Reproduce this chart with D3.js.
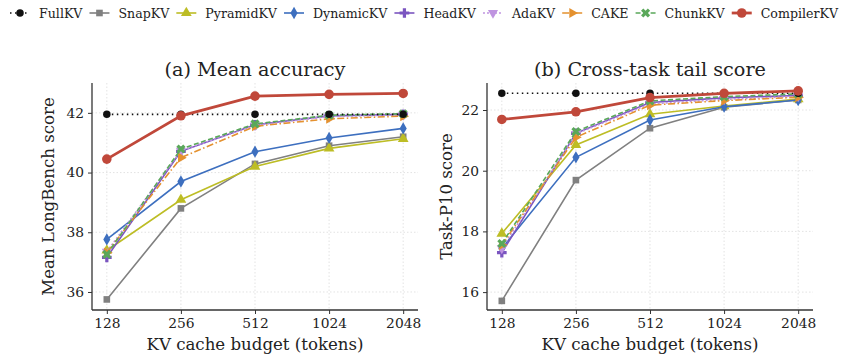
<!DOCTYPE html>
<html><head><meta charset="utf-8">
<script src="https://cdn.jsdelivr.net/npm/d3@7"></script>
<style>body{margin:0;background:#fff}svg{display:block}text{font-family:"DejaVu Serif",serif;fill:#222}</style>
</head><body><svg id="c" width="849" height="356"></svg>
<script>
const budgets = ["128","256","512","1024","2048"];
const methods = ["FullKV","SnapKV","PyramidKV","DynamicKV","HeadKV","AdaKV","CAKE","ChunkKV","CompilerKV"];
const colors = ["#111111","#808080","#bdbd25","#3d6fbf","#7b55c0","#bf94e0","#e4912f","#5aa85a","#c0483a"];
const dashes = ["1.5,3.5",null,null,null,null,"2,2","7,2.5,1.5,2.5","5,2.5",null];
const markers = ["circle","square","triangle","diamond","plus","tridown","triright","x","circle"];

// (a) Mean LongBench accuracy
const meanFullKV    = [41.95,41.95,41.95,41.95,41.95];
const meanSnapKV    = [35.75,38.80,40.29,40.90,41.20];
const meanPyramidKV = [37.39,39.09,40.20,40.81,41.13];
const meanDynamicKV = [37.76,39.70,40.70,41.16,41.48];
const meanHeadKV    = [37.16,40.71,41.60,41.90,41.95];
const meanAdaKV     = [37.35,40.73,41.58,41.88,41.93];
const meanCAKE      = [37.32,40.50,41.55,41.80,41.89];
const meanChunkKV   = [37.26,40.79,41.63,41.92,41.97];
const meanCompilerKV= [40.45,41.90,42.56,42.62,42.65];

// (b) Task-P10 score
const p10FullKV    = [22.55,22.55,22.55,22.55,22.55];
const p10SnapKV    = [15.71,19.69,21.40,22.09,22.33];
const p10PyramidKV = [17.93,20.85,21.86,22.13,22.36];
const p10DynamicKV = [17.44,20.44,21.67,22.11,22.33];
const p10HeadKV    = [17.30,21.23,22.25,22.40,22.48];
const p10AdaKV     = [17.44,21.21,22.20,22.35,22.45];
const p10CAKE      = [17.55,21.10,22.16,22.31,22.42];
const p10ChunkKV   = [17.60,21.29,22.30,22.44,22.53];
const p10CompilerKV= [21.69,21.94,22.41,22.55,22.63];

const meanSeries = [meanFullKV,meanSnapKV,meanPyramidKV,meanDynamicKV,meanHeadKV,meanAdaKV,meanCAKE,meanChunkKV,meanCompilerKV];
const p10Series  = [p10FullKV,p10SnapKV,p10PyramidKV,p10DynamicKV,p10HeadKV,p10AdaKV,p10CAKE,p10ChunkKV,p10CompilerKV];

const meanTicks = [36,38,40,42];
const p10Ticks = [16,18,20,22];

const svg = d3.select("#c");

function symbolPath(kind, big){
  const s = big ? 72 : 44;
  switch(kind){
    case "circle": return {d:d3.symbol(d3.symbolCircle, s)(), r:0};
    case "square": return {d:d3.symbol(d3.symbolSquare, 44)(), r:0};
    case "triangle": return {d:d3.symbol(d3.symbolTriangle, 50)(), r:0};
    case "tridown": return {d:d3.symbol(d3.symbolTriangle, 44)(), r:180};
    case "triright": return {d:d3.symbol(d3.symbolTriangle, 44)(), r:90};
    case "diamond": return {d:d3.symbol(d3.symbolDiamond, 44)(), r:0};
    case "plus": return {d:d3.symbol(d3.symbolCross, 52)(), r:0};
    case "x": return {d:d3.symbol(d3.symbolCross, 52)(), r:45};
  }
}

const order = [1,2,3,4,5,6,7,0,8];

function panel(opts){
  const {x0,x1,y0,y1,domain,ticks,series,title,ylabel,ylx} = opts;
  const x = d3.scalePoint().domain(budgets).range([x0,x1]).padding(0.2);
  const y = d3.scaleLinear().domain(domain).range([y1,y0]);
  const g = svg.append("g");
  // grid
  g.append("g").selectAll("line.gy").data(ticks).join("line")
    .attr("x1",x0).attr("x2",x1).attr("y1",d=>y(d)).attr("y2",d=>y(d))
    .attr("stroke","#dcdcdc").attr("stroke-width",0.8).attr("stroke-dasharray","1.5,2");
  g.append("g").selectAll("line.gx").data(budgets).join("line")
    .attr("x1",d=>x(d)).attr("x2",d=>x(d)).attr("y1",y0).attr("y2",y1)
    .attr("stroke","#dcdcdc").attr("stroke-width",0.8).attr("stroke-dasharray","1.5,2");
  // axes
  const ax = g.append("g").attr("transform",`translate(0,${y1})`)
    .call(d3.axisBottom(x).tickSizeOuter(0).tickSize(4).tickPadding(4));
  const ay = g.append("g").attr("transform",`translate(${x0},0)`)
    .call(d3.axisLeft(y).tickValues(ticks).tickSizeOuter(0).tickSize(4).tickPadding(4).tickFormat(d3.format("d")));
  [ax,ay].forEach(a=>{
    a.select(".domain").attr("stroke","#333").attr("stroke-width",1.3);
    a.selectAll(".tick line").attr("stroke","#333").attr("stroke-width",1);
    a.selectAll(".tick text").attr("font-size",13.8).attr("font-family","DejaVu Serif").attr("fill","#222");
  });
  ax.select(".domain").attr("d",`M${x0},0H${x1}`);
  ay.select(".domain").attr("d",`M0,${y0}V${y1}`);
  // lines
  const line = d3.line().x((d,i)=>x(budgets[i])).y(d=>y(d));
  order.forEach(k=>{
    const big = k===8;
    const gs = g.append("g");
    gs.append("path").attr("d",line(series[k])).attr("fill","none")
      .attr("stroke",colors[k]).attr("stroke-width",big?2.8:1.6)
      .attr("stroke-dasharray",dashes[k]);
    const sp = symbolPath(markers[k], big);
    gs.selectAll("path.m").data(series[k]).join("path").attr("class","m")
      .attr("d",sp.d).attr("fill",colors[k])
      .attr("transform",(d,i)=>`translate(${x(budgets[i])},${y(d)}) rotate(${sp.r})`);
  });
  g.append("text").attr("x",(x0+x1)/2).attr("y",y0-7).attr("text-anchor","middle")
    .attr("font-size",19.2).text(title);
  g.append("text").attr("x",(x0+x1)/2).attr("y",350).attr("text-anchor","middle")
    .attr("font-size",16.6).text("KV cache budget (tokens)");
  g.append("text").attr("transform",`translate(${ylx},${(y0+y1)/2}) rotate(-90)`)
    .attr("text-anchor","middle").attr("font-size",16.6).text(ylabel);
}

panel({x0:92,x1:418,y0:83,y1:310,domain:[35.396,43.0],ticks:meanTicks,series:meanSeries,
  title:"(a) Mean accuracy",ylabel:"Mean LongBench score",ylx:54});
panel({x0:487,x1:813,y0:83,y1:310,domain:[15.41,22.89],ticks:p10Ticks,series:p10Series,
  title:"(b) Cross-task tail score",ylabel:"Task-P10 score",ylx:452});

// legend: items spread between x=10 and x=838
const lg = svg.append("g");
const ly = 13, lx0 = 10, lx1 = 838, handle = 20, textOff = 29;
const items = methods.map((m,k)=>{
  const it = lg.append("g");
  const t = it.append("text").attr("y",ly+4.5).attr("font-size",12.6).text(m);
  return {it, t, w: t.node().getComputedTextLength(), k};
});
const totalW = d3.sum(items, d=>d.w) + items.length*textOff;
const gap = (lx1 - lx0 - totalW) / (items.length - 1);
let cx = lx0;
items.forEach(({it,t,w,k})=>{
  it.insert("line","text").attr("x1",cx).attr("x2",cx+handle).attr("y1",ly).attr("y2",ly)
    .attr("stroke",colors[k]).attr("stroke-width",k===8?2.8:1.6).attr("stroke-dasharray",dashes[k]);
  const sp = symbolPath(markers[k], k===8);
  it.insert("path","text").attr("d",sp.d).attr("fill",colors[k])
    .attr("transform",`translate(${cx+handle/2},${ly}) rotate(${sp.r})`);
  t.attr("x",cx+textOff);
  cx += textOff + w + gap;
});
</script></body></html>
